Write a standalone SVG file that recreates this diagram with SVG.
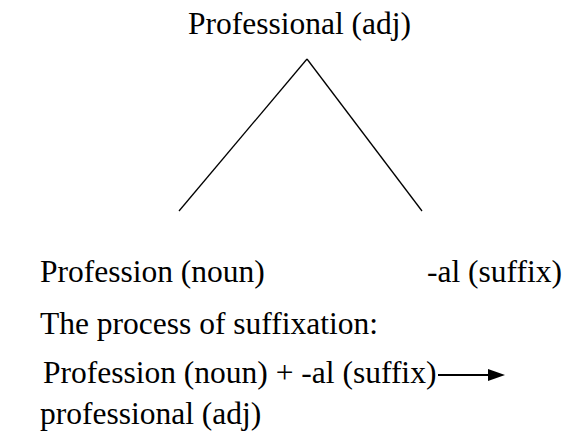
<svg xmlns="http://www.w3.org/2000/svg" width="570" height="431" viewBox="0 0 570 431">
<defs>
<style>
text{font-family:"Liberation Serif","Times New Roman",serif;font-size:31.5px;fill:#000}
.ln{stroke:#000;stroke-width:1.3;fill:none}
.ar{stroke:#000;stroke-width:1.8;fill:none}
</style>
</defs>
<rect width="570" height="431" fill="#fff"/>
<g id="connectors">
<line class="ln" x1="307" y1="59" x2="179" y2="211"/>
<line class="ln" x1="307" y1="59" x2="422" y2="211"/>
</g>
<g id="root"><text x="188" y="34">Professional (adj)</text></g>
<g id="noun"><text x="40" y="282">Profession (noun)</text></g>
<g id="suffix"><text x="427" y="282">-al (suffix)</text></g>
<g id="process">
<text x="40" y="334">The process of suffixation:</text>
<text x="43" y="383">Profession (noun) + -al (suffix)</text>
<line class="ar" x1="438" y1="375" x2="490" y2="375"/>
<path d="M488,369L505,375L488,381z" fill="#000"/>
<text x="40" y="424">professional (adj)</text>
</g>
</svg>
